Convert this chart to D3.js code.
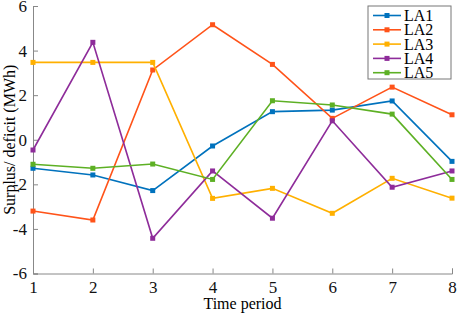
<!DOCTYPE html>
<html>
<head>
<meta charset="utf-8">
<script src="https://cdn.jsdelivr.net/npm/d3@7"></script>
<style>
  body { margin: 0; background: #fff; }
  svg text { font-family: "Liberation Serif", "Times New Roman", serif; }
</style>
</head>
<body>
<div id="chart"></div>
<script>
const periods = [1, 2, 3, 4, 5, 6, 7, 8];
const seriesNames = ['LA1', 'LA2', 'LA3', 'LA4', 'LA5'];
const la1 = [-1.28, -1.58, -2.28, -0.28, 1.26, 1.33, 1.74, -0.97];
const la2 = [-3.2, -3.6, 3.13, 5.16, 3.38, 0.96, 2.36, 1.12];
const la3 = [3.47, 3.47, 3.47, -2.63, -2.18, -3.3, -1.73, -2.62];
const la4 = [-0.46, 4.37, -4.42, -1.4, -3.52, 0.85, -2.13, -1.4];
const la5 = [-1.1, -1.28, -1.09, -1.78, 1.75, 1.56, 1.15, -1.78];
const yTicks = [-6, -4, -2, 0, 2, 4, 6];
const colors = ['#0072BD', '#FF5319', '#FFB000', '#8E2C9A', '#5DB024'];

const allSeries = [la1, la2, la3, la4, la5];

const width = 457, height = 313;
const margin = { left: 33, right: 5, top: 6, bottom: 39.5 };
const serif = '"Liberation Serif", "Times New Roman", serif';

const svg = d3.select('#chart').append('svg')
  .attr('width', width)
  .attr('height', height);

const x = d3.scaleLinear().domain([1, 8]).range([margin.left, width - margin.right]);
const y = d3.scaleLinear().domain([-6, 6]).range([height - margin.bottom, margin.top]);

// Axes (ticks inside, grey lines)
const xAxis = svg.append('g')
  .attr('transform', `translate(0,${y(-6)})`)
  .call(d3.axisBottom(x).tickValues(periods).tickSize(-5).tickPadding(7).tickFormat(d3.format('d')));
const yAxis = svg.append('g')
  .attr('transform', `translate(${x(1)},0)`)
  .call(d3.axisLeft(y).tickValues(yTicks).tickSize(-5).tickPadding(6).tickFormat(d => d));

[xAxis, yAxis].forEach(ax => {
  ax.attr('font-family', serif);
  ax.select('.domain').attr('stroke', '#888').attr('stroke-width', 1);
  ax.selectAll('.tick line').attr('stroke', '#888');
  ax.selectAll('.tick text').attr('fill', '#111').style('font-size', '17px');
});

svg.append('text')
  .attr('x', (x(1) + x(8)) / 2)
  .attr('y', height - 4)
  .attr('text-anchor', 'middle')
  .style('font-size', '16px')
  .text('Time period');

svg.append('text')
  .attr('transform', `translate(15,${y(0)}) rotate(-90)`)
  .attr('text-anchor', 'middle')
  .style('font-size', '16px')
  .text('Surplus/ deficit (MWh)');

const line = d3.line().x((d, i) => x(periods[i])).y(d => y(d));

allSeries.forEach((vals, k) => {
  svg.append('path')
    .datum(vals)
    .attr('fill', 'none')
    .attr('stroke', colors[k])
    .attr('stroke-width', 1.6)
    .attr('d', line);
  svg.selectAll(null)
    .data(vals)
    .join('rect')
    .attr('x', (d, i) => x(periods[i]) - 2.5)
    .attr('y', d => y(d) - 2.5)
    .attr('width', 5)
    .attr('height', 5)
    .attr('fill', colors[k]);
});

// Legend
const legend = svg.append('g').attr('transform', 'translate(368,6)');
legend.append('rect')
  .attr('width', 83).attr('height', 73)
  .attr('fill', '#fff').attr('stroke', '#777').attr('stroke-width', 1);
seriesNames.forEach((name, i) => {
  const g = legend.append('g').attr('transform', `translate(0,${9.5 + i * 14.3})`);
  g.append('line').attr('x1', 5).attr('x2', 33).attr('stroke', colors[i]).attr('stroke-width', 1.6);
  g.append('rect').attr('x', 16.5).attr('y', -2.5).attr('width', 5).attr('height', 5).attr('fill', colors[i]);
  g.append('text').attr('x', 36).attr('y', 5.5).style('font-size', '16px').text(name);
});
</script>
</body>
</html>
